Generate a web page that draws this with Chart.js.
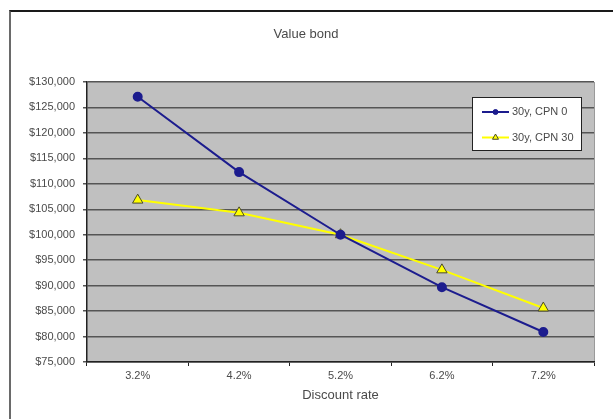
<!DOCTYPE html>
<html>
<head>
<meta charset="utf-8">
<script src="https://cdn.jsdelivr.net/npm/chart.js@4/dist/chart.umd.min.js"></script>
<style>
  html, body { margin: 0; padding: 0; background: #fff; overflow: hidden; }
  #wrap { position: relative; width: 613px; height: 419px; }
  #frame { position: absolute; left: 9px; top: 10px; width: 700px; height: 500px;
           border-top: 2px solid #1a1a1a; border-left: 2px solid #6a6a6a; box-sizing: border-box; }
  #chart { position: absolute; left: 0; top: 0; }
</style>
</head>
<body>
<div id="wrap">
  <div id="frame"></div>
  <canvas id="chart" width="613" height="419"></canvas>
</div>
<script>
// Discount rates on the x axis
const rates = ['3.2%', '4.2%', '5.2%', '6.2%', '7.2%'];
// Bond value at each discount rate
const bondA = [127100, 112300, 100000, 89700, 80900];
const bondB = [106800, 104300, 100000, 93100, 85600];
const seriesNames = ['30y, CPN 0', '30y, CPN 30'];
// Value axis range
const yMin = 75000, yMax = 130000, yStep = 5000;

const FONT = "'Liberation Sans', Arial, sans-serif";
const TEXT = '#4a4a4a';

// Grey plot background
const plotBg = {
  id: 'plotBg',
  beforeDraw(chart) {
    const { ctx, chartArea: a } = chart;
    ctx.save();
    ctx.fillStyle = '#c0c0c0';
    ctx.fillRect(a.left, a.top, a.right - a.left, a.bottom - a.top);
    ctx.strokeStyle = '#9a9a9a';
    ctx.lineWidth = 1;
    ctx.beginPath();
    ctx.moveTo(a.right + 0.5, a.top);
    ctx.lineTo(a.right + 0.5, a.bottom);
    ctx.stroke();
    ctx.restore();
  }
};

// Boxed legend placed inside the plot's upper right corner
const boxLegend = {
  id: 'boxLegend',
  afterDatasetsDraw(chart) {
    const { ctx, chartArea: a } = chart;
    const w = 109, h = 53;
    const x = a.right - 13 - w, y = a.top + 15;
    ctx.save();
    ctx.fillStyle = '#ffffff';
    ctx.fillRect(x, y, w, h);
    ctx.strokeStyle = '#222';
    ctx.lineWidth = 1;
    ctx.strokeRect(x + 0.5, y + 0.5, w, h);
    chart.data.datasets.forEach((ds, i) => {
      const cy = y + 15 + i * 25.5;
      const x0 = x + 10, x1 = x + 37;
      ctx.strokeStyle = ds.borderColor;
      ctx.lineWidth = ds.borderWidth;
      ctx.beginPath();
      ctx.moveTo(x0, cy);
      ctx.lineTo(x1, cy);
      ctx.stroke();
      ctx.fillStyle = ds.pointBackgroundColor;
      ctx.strokeStyle = ds.pointBorderColor;
      ctx.lineWidth = 1;
      Chart.helpers.drawPoint(ctx, {
        pointStyle: ds.pointStyle, radius: ds.pointStyle === 'triangle' ? 3.5 : 2.5, borderWidth: 1
      }, (x0 + x1) / 2, cy);
      ctx.fillStyle = TEXT;
      ctx.font = '11px ' + FONT;
      ctx.textBaseline = 'middle';
      ctx.textAlign = 'left';
      ctx.fillText(ds.label, x1 + 3, cy);
    });
    ctx.restore();
  }
};

new Chart(document.getElementById('chart'), {
  type: 'line',
  data: {
    labels: rates,
    datasets: [
      {
        label: seriesNames[0],
        data: bondA,
        borderColor: '#1c1c8e',
        borderWidth: 2,
        pointStyle: 'circle',
        pointRadius: 4,
        pointBackgroundColor: '#1c1c8e',
        pointBorderColor: '#1c1c8e',
        tension: 0
      },
      {
        label: seriesNames[1],
        data: bondB,
        borderColor: '#ffff00',
        borderWidth: 2,
        pointStyle: 'triangle',
        pointRadius: 6,
        pointBackgroundColor: '#ffff00',
        pointBorderColor: '#4a4a2a',
        pointBorderWidth: 1,
        tension: 0
      }
    ]
  },
  options: {
    responsive: false,
    animation: false,
    devicePixelRatio: 1,
    layout: { padding: { left: 18, right: 19, top: 0, bottom: 10 } },
    plugins: {
      legend: { display: false },
      tooltip: { enabled: false },
      title: {
        display: true,
        text: 'Value bond',
        color: TEXT,
        font: { family: FONT, size: 13, weight: 'normal', lineHeight: 1.2 },
        padding: { top: 27, bottom: 39.4 }
      }
    },
    scales: {
      x: {
        type: 'category',
        offset: true,
        afterFit(scale) { scale.height = 47; },
        grid: { offset: true, drawOnChartArea: false, drawTicks: true, tickLength: 4, color: '#222', lineWidth: 1 },
        border: { display: true, color: '#222', width: 1.5 },
        ticks: { color: TEXT, font: { family: FONT, size: 11 }, padding: 3, maxRotation: 0, autoSkip: false },
        title: {
          display: true,
          text: 'Discount rate',
          color: TEXT,
          font: { family: FONT, size: 13 },
          padding: { top: 0, bottom: 6 }
        }
      },
      y: {
        min: yMin,
        max: yMax,
        afterFit(scale) { scale.width = 69; },
        grid: { drawOnChartArea: true, drawTicks: true, tickLength: 4, color: '#555', lineWidth: 1.5 },
        border: { display: true, color: '#222', width: 1.5 },
        ticks: {
          stepSize: yStep,
          autoSkip: false,
          color: TEXT,
          font: { family: FONT, size: 11 },
          padding: 8,
          callback: v => '$' + v.toLocaleString('en-US')
        }
      }
    }
  },
  plugins: [plotBg, boxLegend]
});
</script>
</body>
</html>
